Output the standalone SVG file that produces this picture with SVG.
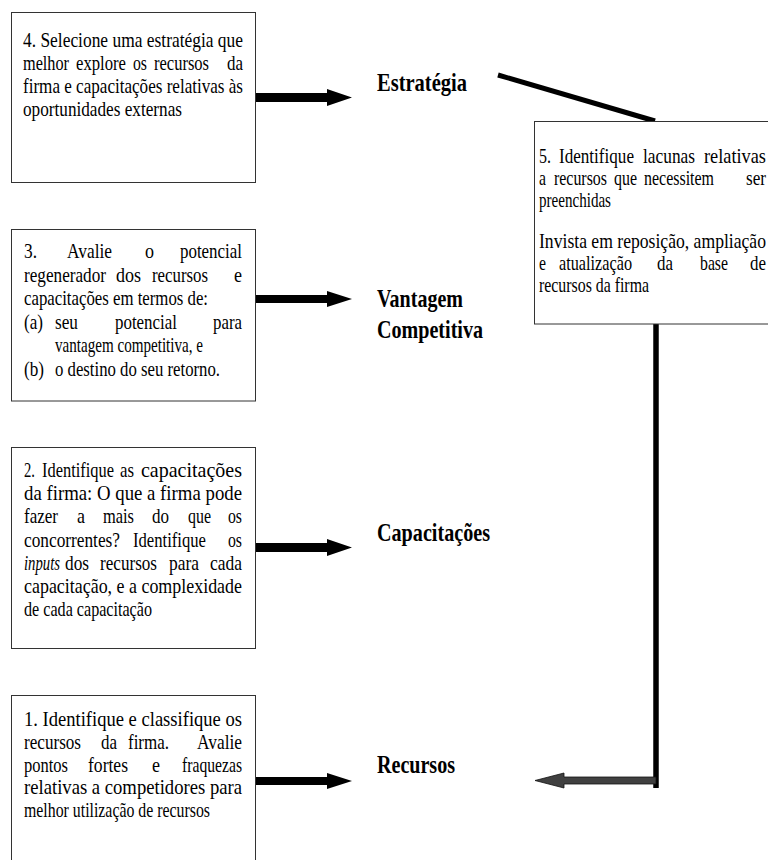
<svg xmlns="http://www.w3.org/2000/svg" width="768" height="860" viewBox="0 0 768 860">
<style>
.box{fill:#fff;stroke:#333;stroke-width:1}
.t{font-family:'Liberation Serif','Times New Roman',Times,serif;font-size:22px;fill:#000}
.t5{font-family:'Liberation Serif','Times New Roman',Times,serif;font-size:21px;fill:#000}
.lbl{font-family:'Liberation Serif','Times New Roman',Times,serif;font-size:25px;font-weight:bold;fill:#000}
.arr{fill:#000}
</style>
<rect width="768" height="860" fill="#fff"/>

<g id="connectors">
  <polygon class="arr" points="255,93 327,93 327,89 352,97.5 327,106 327,102 255,102"/>
  <polygon class="arr" points="255,295 327,295 327,291 352,299 327,307 327,303 255,303"/>
  <polygon class="arr" points="255,543 327,543 327,539 352,547.5 327,556 327,552 255,552"/>
  <polygon class="arr" points="255,777 327,777 327,773 352,781 327,789 327,785 255,785"/>
  <line x1="498" y1="75" x2="655" y2="121" stroke="#000" stroke-width="5"/>
  <line x1="656" y1="324" x2="656" y2="788" stroke="#000" stroke-width="5.5"/>
  <polygon points="656,777 564,777 564,773 535,780.5 564,788 564,784 656,784" fill="#404040" stroke="#111" stroke-width="0.8"/>
</g>

<g id="node4">
  <rect class="box" x="11.5" y="12.5" width="244" height="170"/>
  <text class="t" x="23" y="46.5" textLength="220" lengthAdjust="spacingAndGlyphs">4. Selecione uma estratégia que</text>
  <text class="t" y="69.5"><tspan x="23" textLength="46" lengthAdjust="spacingAndGlyphs">melhor</tspan><tspan x="76" textLength="50" lengthAdjust="spacingAndGlyphs">explore</tspan><tspan x="133" textLength="14" lengthAdjust="spacingAndGlyphs">os</tspan><tspan x="154" textLength="55" lengthAdjust="spacingAndGlyphs">recursos</tspan><tspan x="227" textLength="16" lengthAdjust="spacingAndGlyphs">da</tspan></text>
  <text class="t" x="23" y="92.5" textLength="220" lengthAdjust="spacingAndGlyphs">firma e capacitações relativas às</text>
  <text class="t" x="23" y="115.5" textLength="159" lengthAdjust="spacingAndGlyphs">oportunidades externas</text>
</g>

<g id="label-estrategia">
  <text class="lbl" x="377" y="91" textLength="90" lengthAdjust="spacingAndGlyphs">Estratégia</text>
</g>

<g id="node5">
  <rect class="box" x="534.5" y="121.5" width="260" height="202.5"/>
  <text class="t5" y="163"><tspan x="539" textLength="12" lengthAdjust="spacingAndGlyphs">5.</tspan><tspan x="559" textLength="75" lengthAdjust="spacingAndGlyphs">Identifique</tspan><tspan x="643" textLength="52" lengthAdjust="spacingAndGlyphs">lacunas</tspan><tspan x="704" textLength="62" lengthAdjust="spacingAndGlyphs">relativas</tspan></text>
  <text class="t5" y="185"><tspan x="539" textLength="7" lengthAdjust="spacingAndGlyphs">a</tspan><tspan x="554" textLength="53" lengthAdjust="spacingAndGlyphs">recursos</tspan><tspan x="614" textLength="23" lengthAdjust="spacingAndGlyphs">que</tspan><tspan x="644" textLength="70" lengthAdjust="spacingAndGlyphs">necessitem</tspan><tspan x="746" textLength="20" lengthAdjust="spacingAndGlyphs">ser</tspan></text>
  <text class="t5" x="539" y="207" textLength="72" lengthAdjust="spacingAndGlyphs">preenchidas</text>
  <text class="t5" x="539" y="248" textLength="227" lengthAdjust="spacingAndGlyphs">Invista em reposição, ampliação</text>
  <text class="t5" y="270"><tspan x="539" textLength="7" lengthAdjust="spacingAndGlyphs">e</tspan><tspan x="559" textLength="73" lengthAdjust="spacingAndGlyphs">atualização</tspan><tspan x="657" textLength="16" lengthAdjust="spacingAndGlyphs">da</tspan><tspan x="700" textLength="28" lengthAdjust="spacingAndGlyphs">base</tspan><tspan x="750" textLength="16" lengthAdjust="spacingAndGlyphs">de</tspan></text>
  <text class="t5" x="539" y="292" textLength="110" lengthAdjust="spacingAndGlyphs">recursos da firma</text>
</g>

<g id="node3">
  <rect class="box" x="11.5" y="229.5" width="244" height="171.5"/>
  <text class="t" y="258"><tspan x="24" textLength="13" lengthAdjust="spacingAndGlyphs">3.</tspan><tspan x="67" textLength="45" lengthAdjust="spacingAndGlyphs">Avalie</tspan><tspan x="145" textLength="9" lengthAdjust="spacingAndGlyphs">o</tspan><tspan x="180" textLength="62" lengthAdjust="spacingAndGlyphs">potencial</tspan></text>
  <text class="t" y="281.5"><tspan x="24" textLength="82" lengthAdjust="spacingAndGlyphs">regenerador</tspan><tspan x="116" textLength="25" lengthAdjust="spacingAndGlyphs">dos</tspan><tspan x="152" textLength="56" lengthAdjust="spacingAndGlyphs">recursos</tspan><tspan x="234" textLength="8" lengthAdjust="spacingAndGlyphs">e</tspan></text>
  <text class="t" x="24" y="305" textLength="184" lengthAdjust="spacingAndGlyphs">capacitações em termos de:</text>
  <text class="t" y="328.5"><tspan x="24" textLength="19" lengthAdjust="spacingAndGlyphs">(a)</tspan><tspan x="55" textLength="23" lengthAdjust="spacingAndGlyphs">seu</tspan><tspan x="115" textLength="62" lengthAdjust="spacingAndGlyphs">potencial</tspan><tspan x="213" textLength="29" lengthAdjust="spacingAndGlyphs">para</tspan></text>
  <text class="t" x="55" y="352" textLength="148" lengthAdjust="spacingAndGlyphs">vantagem competitiva, e</text>
  <text class="t" y="375.5"><tspan x="24" textLength="20" lengthAdjust="spacingAndGlyphs">(b)</tspan><tspan x="55" textLength="165" lengthAdjust="spacingAndGlyphs">o destino do seu retorno.</tspan></text>
</g>

<g id="label-vantagem">
  <text class="lbl" x="377" y="307" textLength="86" lengthAdjust="spacingAndGlyphs">Vantagem</text>
  <text class="lbl" x="377" y="338" textLength="106" lengthAdjust="spacingAndGlyphs">Competitiva</text>
</g>

<g id="node2">
  <rect class="box" x="11.5" y="447.5" width="244" height="201"/>
  <text class="t" y="477"><tspan x="24" textLength="11" lengthAdjust="spacingAndGlyphs">2.</tspan><tspan x="42" textLength="72" lengthAdjust="spacingAndGlyphs">Identifique</tspan><tspan x="120" textLength="14" lengthAdjust="spacingAndGlyphs">as</tspan><tspan x="141" textLength="101" lengthAdjust="spacingAndGlyphs">capacitações</tspan></text>
  <text class="t" x="24" y="500" textLength="218" lengthAdjust="spacingAndGlyphs">da firma: O que a firma pode</text>
  <text class="t" y="523"><tspan x="24" textLength="34" lengthAdjust="spacingAndGlyphs">fazer</tspan><tspan x="77" textLength="8" lengthAdjust="spacingAndGlyphs">a</tspan><tspan x="103" textLength="31" lengthAdjust="spacingAndGlyphs">mais</tspan><tspan x="152" textLength="17" lengthAdjust="spacingAndGlyphs">do</tspan><tspan x="188" textLength="23" lengthAdjust="spacingAndGlyphs">que</tspan><tspan x="228" textLength="14" lengthAdjust="spacingAndGlyphs">os</tspan></text>
  <text class="t" y="547"><tspan x="24" textLength="96" lengthAdjust="spacingAndGlyphs">concorrentes?</tspan><tspan x="133" textLength="73" lengthAdjust="spacingAndGlyphs">Identifique</tspan><tspan x="228" textLength="14" lengthAdjust="spacingAndGlyphs">os</tspan></text>
  <text class="t" y="570"><tspan x="24" font-style="italic" textLength="36" lengthAdjust="spacingAndGlyphs">inputs</tspan><tspan x="65" textLength="24" lengthAdjust="spacingAndGlyphs">dos</tspan><tspan x="100" textLength="57" lengthAdjust="spacingAndGlyphs">recursos</tspan><tspan x="169" textLength="30" lengthAdjust="spacingAndGlyphs">para</tspan><tspan x="210" textLength="32" lengthAdjust="spacingAndGlyphs">cada</tspan></text>
  <text class="t" x="24" y="593" textLength="218" lengthAdjust="spacingAndGlyphs">capacitação, e a complexidade</text>
  <text class="t" x="24" y="616" textLength="128" lengthAdjust="spacingAndGlyphs">de cada capacitação</text>
</g>

<g id="label-capacitacoes">
  <text class="lbl" x="377" y="541" textLength="113" lengthAdjust="spacingAndGlyphs">Capacitações</text>
</g>

<g id="node1">
  <rect class="box" x="11.5" y="695.5" width="244" height="200"/>
  <text class="t" x="24" y="726" textLength="218" lengthAdjust="spacingAndGlyphs">1. Identifique e classifique os</text>
  <text class="t" y="749"><tspan x="24" textLength="57" lengthAdjust="spacingAndGlyphs">recursos</tspan><tspan x="101" textLength="16" lengthAdjust="spacingAndGlyphs">da</tspan><tspan x="128" textLength="41" lengthAdjust="spacingAndGlyphs">firma.</tspan><tspan x="197" textLength="45" lengthAdjust="spacingAndGlyphs">Avalie</tspan></text>
  <text class="t" y="771.5"><tspan x="24" textLength="44" lengthAdjust="spacingAndGlyphs">pontos</tspan><tspan x="88" textLength="40" lengthAdjust="spacingAndGlyphs">fortes</tspan><tspan x="152" textLength="8" lengthAdjust="spacingAndGlyphs">e</tspan><tspan x="182" textLength="60" lengthAdjust="spacingAndGlyphs">fraquezas</tspan></text>
  <text class="t" x="24" y="794" textLength="218" lengthAdjust="spacingAndGlyphs">relativas a competidores para</text>
  <text class="t" x="24" y="817" textLength="186" lengthAdjust="spacingAndGlyphs">melhor utilização de recursos</text>
</g>

<g id="label-recursos">
  <text class="lbl" x="377" y="773" textLength="78" lengthAdjust="spacingAndGlyphs">Recursos</text>
</g>
</svg>
